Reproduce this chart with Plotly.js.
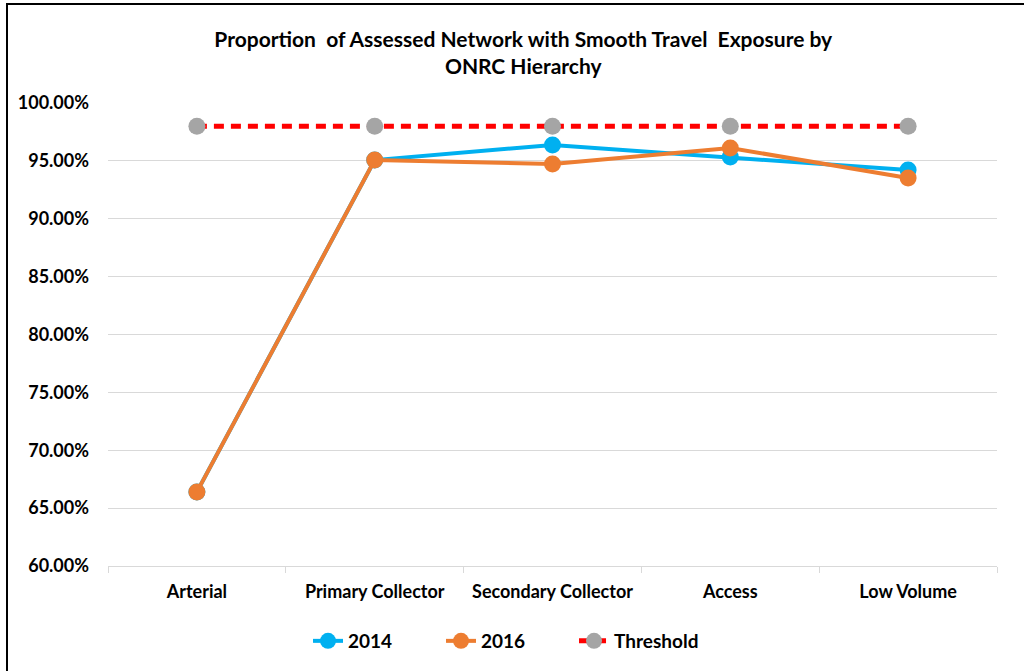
<!DOCTYPE html>
<html>
<head>
<meta charset="utf-8">
<script src="https://cdn.plot.ly/plotly-3.0.1.min.js"></script>
<style>
  html, body { margin: 0; padding: 0; background: #fff; }
  #wrap { position: relative; width: 1024px; height: 671px; overflow: hidden; }
  #chart { position: absolute; left: 0; top: 0; width: 1024px; height: 671px; }
  #frame { position: absolute; left: 6px; top: 3px; width: 1030px; height: 700px;
           border-left: 2px solid #000; border-top: 2px solid #000; pointer-events: none; }
</style>
</head>
<body>
<div id="wrap">
  <div id="chart"></div>
  <div id="frame"></div>
</div>
<script>
const categories = ["Arterial", "Primary Collector", "Secondary Collector", "Access", "Low Volume"];
const values2014 = [0.664, 0.9507, 0.9637, 0.9533, 0.9421];
const values2016 = [0.664, 0.9507, 0.9473, 0.9611, 0.9352];
const threshold = [0.98, 0.98, 0.98, 0.98, 0.98];
const yTicks = [0.60, 0.65, 0.70, 0.75, 0.80, 0.85, 0.90, 0.95, 1.00];

const fontFam = "Lato, 'Open Sans', sans-serif";

const traces = [
  {
    x: categories, y: values2014, name: "2014", type: "scatter", mode: "lines+markers",
    line: { color: "#00B0F0", width: 4 },
    marker: { color: "#00B0F0", size: 17 }
  },
  {
    x: categories, y: values2016, name: "2016", type: "scatter", mode: "lines+markers",
    line: { color: "#ED7D31", width: 4 },
    marker: { color: "#ED7D31", size: 17 }
  },
  {
    x: categories, y: threshold, name: "Threshold", type: "scatter", mode: "lines+markers",
    line: { color: "#FF0000", width: 5, dash: "10px,7px" },
    marker: { color: "#A5A5A5", size: 17 }
  }
];

const layout = {
  width: 1024, height: 671,
  margin: { l: 108, r: 27, t: 103, b: 105, autoexpand: false },
  paper_bgcolor: "#ffffff", plot_bgcolor: "#ffffff",
  title: {
    text: "<b>Proportion  of Assessed Network with Smooth Travel  Exposure by<br>ONRC Hierarchy</b>",
    font: { family: fontFam, size: 21, color: "#000" },
    x: 0.511, xanchor: "center", y: 0.93, yanchor: "top"
  },
  xaxis: {
    type: "category",
    range: [-0.5, 4.5],
    automargin: false,
    showgrid: false,
    showline: true, linecolor: "#D9D9D9", linewidth: 1,
    ticks: "outside", tickson: "boundaries", ticklen: 6, tickcolor: "#D9D9D9",
    ticklabelstandoff: 9,
    tickangle: 0,
    tickfont: { family: fontFam, size: 18, color: "#000", weight: "bold" },
    fixedrange: true
  },
  yaxis: {
    range: [0.60, 1.00],
    automargin: false,
    tickvals: yTicks,
    tickformat: ".2%",
    showgrid: true, gridcolor: "#D9D9D9", gridwidth: 1,
    zeroline: false, showline: false, ticks: "",
    ticklabelstandoff: 18,
    tickfont: { family: fontFam, size: 18, color: "#000", weight: "bold" },
    fixedrange: true
  },
  showlegend: true,
  legend: {
    orientation: "h", x: 0.225, xanchor: "left", y: -0.162, yanchor: "middle",
    font: { family: fontFam, size: 19, color: "#000", weight: "bold" },
    entrywidth: 88, entrywidthmode: "pixels",
    traceorder: "normal"
  }
};

Plotly.newPlot("chart", traces, layout, { displayModeBar: false, staticPlot: true });
</script>
</body>
</html>
